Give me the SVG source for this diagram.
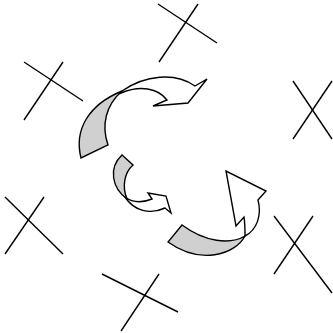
<svg xmlns="http://www.w3.org/2000/svg" width="333" height="333" viewBox="0 0 333 333">
<style>
.x line{stroke:#000;stroke-width:1.4;stroke-linecap:butt}
.back{fill:#d0d0d0;stroke:#000;stroke-width:1.4;stroke-linejoin:miter}
.front{fill:#fff;stroke:#000;stroke-width:1.4;stroke-linejoin:miter}
</style>
<rect width="333" height="333" fill="#fff"/>
<g id="cross-top" class="x"><line x1="158" y1="4" x2="217" y2="43"/><line x1="198" y1="4" x2="159" y2="62"/></g>
<g id="cross-upper-left" class="x"><line x1="24" y1="62" x2="83" y2="101"/><line x1="63" y1="62" x2="24" y2="120"/></g>
<g id="cross-right" class="x"><line x1="293" y1="81" x2="332" y2="139"/><line x1="332" y1="81" x2="293" y2="139"/></g>
<g id="cross-left" class="x"><line x1="5" y1="197" x2="63" y2="254"/><line x1="44" y1="197" x2="5" y2="254"/></g>
<g id="cross-bottom" class="x"><line x1="102" y1="274" x2="178" y2="312"/><line x1="159" y1="274" x2="121" y2="331"/></g>
<g id="cross-lower-right" class="x"><line x1="313" y1="216" x2="274" y2="274"/><line x1="274" y1="216" x2="332" y2="293"/></g>
<g id="arrow-top">
<path class="back" d="M81,158 C74,130 88,105 122,91 C106,105 101,125 108,145 Z"/>
<path class="front" d="M122,91 C145,75 175,72 195,86 L207,79 L188,103 L153,106 L167,100 C158,88 140,85 121,93 Z"/>
</g>
<g id="arrow-middle">
<path class="back" d="M122,155 C108,168 112,188 127,199 C122,187 124,173 133,165 Z"/>
<path class="front" d="M125,197 C133,203 142,203 152,199 L148,193 L166,196 L171,213 L165,208 C150,215 134,211 125,197 Z"/>
</g>
<g id="arrow-bottom">
<path class="back" d="M182,225 C205,242 230,245 245,236 C235,255 200,265 168,242 Z"/>
<path class="front" d="M245,236 C245,230 245,223 244,217 L236,226 L226,171 L266,191 L258,200 C262,215 257,230 245,236 Z"/>
</g>
</svg>
